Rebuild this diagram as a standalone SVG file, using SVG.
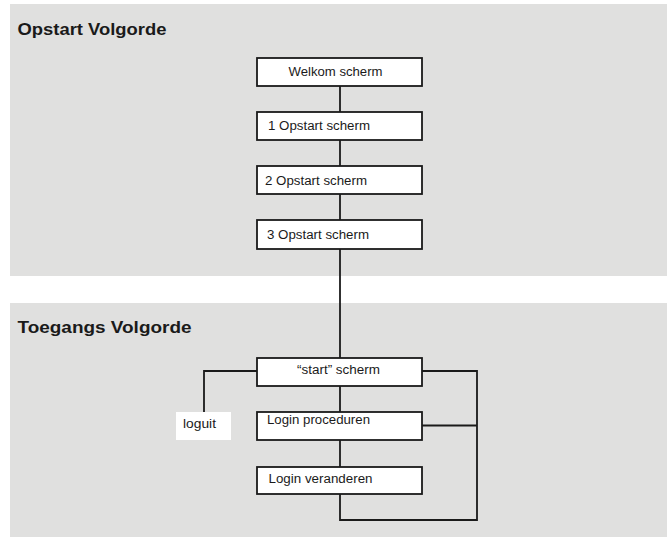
<svg xmlns="http://www.w3.org/2000/svg" width="667" height="543" viewBox="0 0 667 543">
<style>
.panel{fill:#e0e0df}
.box{fill:#fff;stroke:#1a1a1a;stroke-width:1.8}
.t{font-family:"Liberation Sans",Arial,sans-serif;font-size:12.5px;fill:#1a1a1a}
.h{font-family:"Liberation Sans",Arial,sans-serif;font-size:16.5px;font-weight:bold;fill:#1a1a1a}
.c{fill:none;stroke:#1a1a1a;stroke-width:1.8}
</style>
<rect width="667" height="543" fill="#fff"/>
<g id="panel-opstart"><rect class="panel" x="10" y="4" width="657" height="272"/><text class="h" x="17.5" y="35" textLength="149" lengthAdjust="spacingAndGlyphs">Opstart Volgorde</text></g>
<g id="panel-toegang"><rect class="panel" x="10" y="303" width="657" height="234"/><text class="h" x="17.5" y="333" textLength="174" lengthAdjust="spacingAndGlyphs">Toegangs Volgorde</text></g>
<g id="connectors">
<line class="c" x1="340" y1="86" x2="340" y2="112"/>
<line class="c" x1="340" y1="140" x2="340" y2="166"/>
<line class="c" x1="340" y1="194" x2="340" y2="220"/>
<line class="c" x1="340" y1="249" x2="340" y2="358"/>
<line class="c" x1="340" y1="386" x2="340" y2="412"/>
<line class="c" x1="340" y1="440" x2="340" y2="467"/>
<polyline class="c" points="257,371 204,371 204,412"/>
<polyline class="c" points="422,371 477,371 477,520 340,520 340,494"/>
<line class="c" x1="422" y1="425.5" x2="477" y2="425.5" stroke-width="2.6"/>
</g>
<g id="welkom"><rect class="box" x="257" y="58" width="165" height="28"/><text class="t" x="288.5" y="76" textLength="94" lengthAdjust="spacingAndGlyphs">Welkom scherm</text></g>
<g id="opstart1"><rect class="box" x="257" y="112" width="165" height="28"/><text class="t" x="268" y="130" textLength="102" lengthAdjust="spacingAndGlyphs">1 Opstart scherm</text></g>
<g id="opstart2"><rect class="box" x="257" y="166" width="165" height="28"/><text class="t" x="265" y="185" textLength="102" lengthAdjust="spacingAndGlyphs">2 Opstart scherm</text></g>
<g id="opstart3"><rect class="box" x="257" y="220" width="165" height="29"/><text class="t" x="267" y="239" textLength="102" lengthAdjust="spacingAndGlyphs">3 Opstart scherm</text></g>
<g id="start"><rect class="box" x="257" y="358" width="165" height="28"/><text class="t" x="297" y="374" textLength="83" lengthAdjust="spacingAndGlyphs">“start” scherm</text></g>
<g id="login-proc"><rect class="box" x="257" y="412" width="165" height="28"/><text class="t" x="267" y="423.5" textLength="103" lengthAdjust="spacingAndGlyphs">Login proceduren</text></g>
<g id="login-ver"><rect class="box" x="257" y="467" width="165" height="27"/><text class="t" x="268.5" y="482.5" textLength="104" lengthAdjust="spacingAndGlyphs">Login veranderen</text></g>
<g id="loguit"><rect x="176" y="412" width="55" height="28" fill="#fff"/><text class="t" x="183" y="428" textLength="33" lengthAdjust="spacingAndGlyphs">loguit</text></g>
</svg>
